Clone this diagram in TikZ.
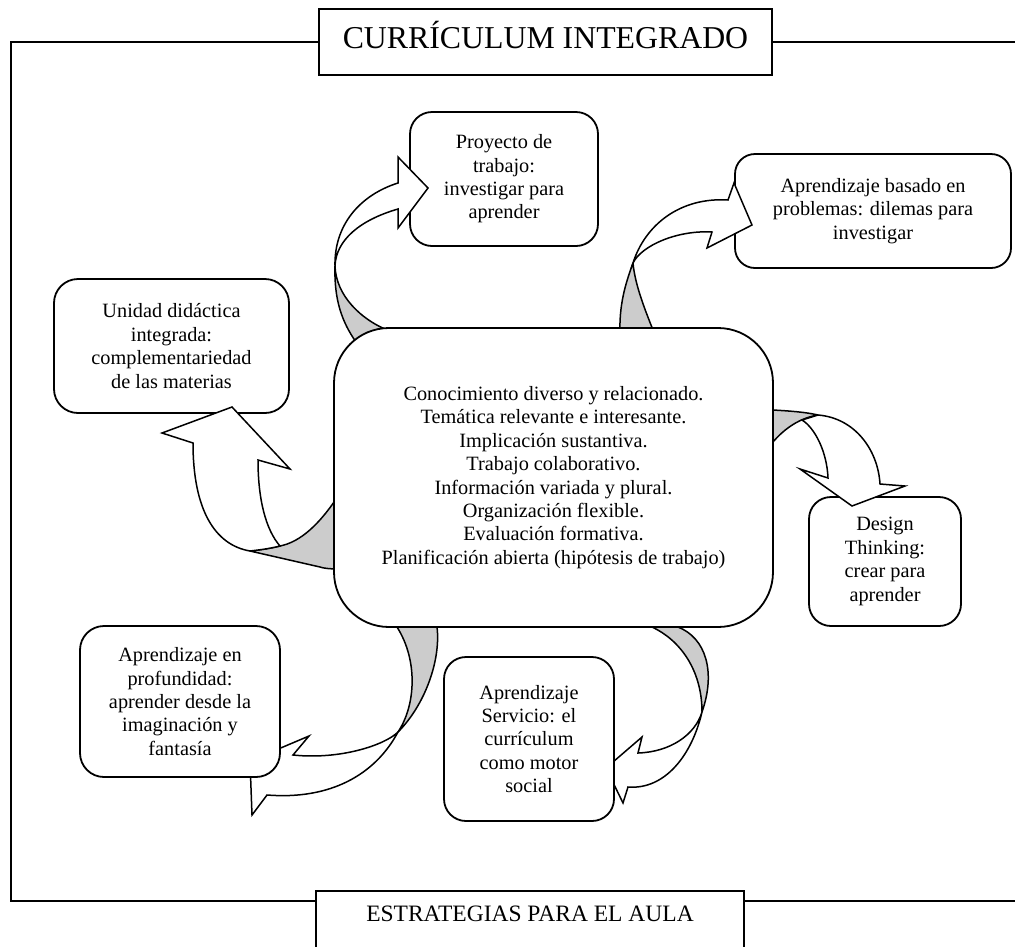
\documentclass[tikz,border=0pt]{standalone}
\usepackage{fontspec}
\setmainfont{Liberation Serif}
\newcommand\bfnt{\fontsize{20.3}{23.4}\selectfont}
\begin{document}
\begin{tikzpicture}[x=1pt,y=-1pt,
  rbox/.style={draw, line width=1.8pt, fill=white, align=center, font=\bfnt, inner sep=2pt},
  sqbox/.style={draw, line width=1.9pt, fill=white, inner sep=0pt},
  frame/.style={line width=2.1pt},
  band/.style={draw, fill=white, line width=1.5pt, line join=miter},
  under/.style={draw, fill=gray!40, line width=1.5pt, line join=round}]
\useasboundingbox (0,0) rectangle (1015,946);

% title and bottom boxes
\node[sqbox, minimum width=453pt, minimum height=66pt] (title) at (545.5,42) {};
\node[anchor=base, font=\fontsize{31.8}{36}\selectfont, inner sep=0pt] (titletext) at (545.5,48) {CURRÍCULUM INTEGRADO};
\node[sqbox, minimum width=428pt, minimum height=70pt, anchor=north] (bottombox) at (530,890) {};
\node[anchor=base, font=\fontsize{23.5}{27}\selectfont, inner sep=0pt] (bottomtext) at (530,921) {ESTRATEGIAS PARA EL AULA};

% frame
\coordinate (fTL) at (11,42);
\coordinate (fBL) at (11,901);
\coordinate (fTR) at (1017,42);
\coordinate (fBR) at (1017,901);
\draw[frame] (title.west) -- (fTL) -- (fBL) -- (fBL -| bottombox.west);
\draw[frame] (title.east) -- (fTR);
\draw[frame] (fBL -| bottombox.east) -- (fBR);

% boxes under the arrow heads
\node[rbox, rounded corners=22pt, minimum width=188pt, minimum height=134pt] (proyecto) at (504,179) {Proyecto de\\trabajo:\\investigar para\\aprender};
\node[rbox, rounded corners=20pt, minimum width=276pt, minimum height=114pt] (basado) at (873,211) {Aprendizaje basado en\\problemas: dilemas para\\investigar};
\node[rbox, rounded corners=24pt, minimum width=235pt, minimum height=134pt] (unidad) at (171.5,346) {Unidad didáctica\\integrada:\\complementariedad\\de las materias};
\node[rbox, rounded corners=22pt, minimum width=152pt, minimum height=129pt] (design) at (885,561.5) {Design\\Thinking:\\crear para\\aprender};

% arrow 1 (to Proyecto)
\draw[under] (335,266) .. controls (334,300) and (342,322) .. (356,342) -- (395,345) -- (392,332) .. controls (360,320) and (336,295) .. (335,266) -- cycle;
\draw[band] (398,183) .. controls (360,195) and (334,225) .. (335,266) .. controls (336,240) and (360,220) .. (398,209) -- (398,228) -- (428,188) -- (398,157) -- cycle;

% arrow 2 (to Basado)
\draw[under] (633,263) .. controls (625,285) and (619,305) .. (620,335) -- (655,335) .. controls (645,310) and (635,285) .. (633,263) -- cycle;
\draw[band] (728,200) .. controls (680,197) and (645,225) .. (633,263) .. controls (642,245) and (678,230) .. (712,232) -- (707,248) -- (752,225) -- (734,183) -- cycle;

% arrow 3 (to Design)
\draw[under] (766,410) -- (773,410) .. controls (790,411) and (805,412) .. (818,415) .. controls (800,418) and (785,428) .. (773,442) -- (766,442) -- cycle;
\draw[band] (802,420) -- (818,415) .. controls (855,418) and (878,450) .. (880,484) -- (905,486) -- (852,506) -- (800,469) -- (828,478) .. controls (827,452) and (815,428) .. (802,420) -- cycle;

% arrow 4 (to Unidad)
\draw[under] (342,490) .. controls (320,525) and (300,542) .. (280,546) .. controls (268,549) and (258,550) .. (250,551) -- (320,567) .. controls (326,569) and (335,569) .. (345,569) -- cycle;
\draw[band] (193,443) .. controls (193,510) and (215,545) .. (250,551) .. controls (258,550) and (268,549) .. (280,546) .. controls (266,530) and (258,500) .. (258,460) -- (290,469) -- (232,407) -- (162,433) -- cycle;

% arrow 5 (to Profundidad)
\draw[under] (397,615) -- (397,627) .. controls (418,660) and (416,705) .. (398,732) .. controls (425,705) and (441,660) .. (437,627) -- (437,615) -- cycle;
\draw[band] (398,732) .. controls (375,775) and (330,800) .. (267,795) -- (252,815) -- (250,761) -- (309,736) -- (293,755) .. controls (340,760) and (385,745) .. (398,732) -- cycle;

% arrow 6 (to Servicio)
\draw[under] (652,615) -- (652,627) .. controls (680,640) and (702,670) .. (702,712) .. controls (716,672) and (706,638) .. (678,627) -- (678,615) -- cycle;
\draw[band] (702,712) .. controls (692,755) and (665,790) .. (628,787) -- (623,803) -- (606,768) -- (642,737) -- (638,753) .. controls (670,752) and (695,735) .. (702,712) -- cycle;

% boxes over the arrow tails
\node[rbox, rounded corners=55pt, minimum width=439pt, minimum height=299pt] (central) at (553.5,477.5) {Conocimiento diverso y relacionado.\\Temática relevante e interesante.\\Implicación sustantiva.\\Trabajo colaborativo.\\Información variada y plural.\\Organización flexible.\\Evaluación formativa.\\Planificación abierta (hipótesis de trabajo)};
\node[rbox, rounded corners=22pt, minimum width=170pt, minimum height=164pt] (servicio) at (529,739) {Aprendizaje\\Servicio: el\\currículum\\como motor\\social};
\node[rbox, rounded corners=24pt, minimum width=200pt, minimum height=151pt] (profundidad) at (180,701.5) {Aprendizaje en\\profundidad:\\aprender desde la\\imaginación y\\fantasía};
\end{tikzpicture}
\end{document}
